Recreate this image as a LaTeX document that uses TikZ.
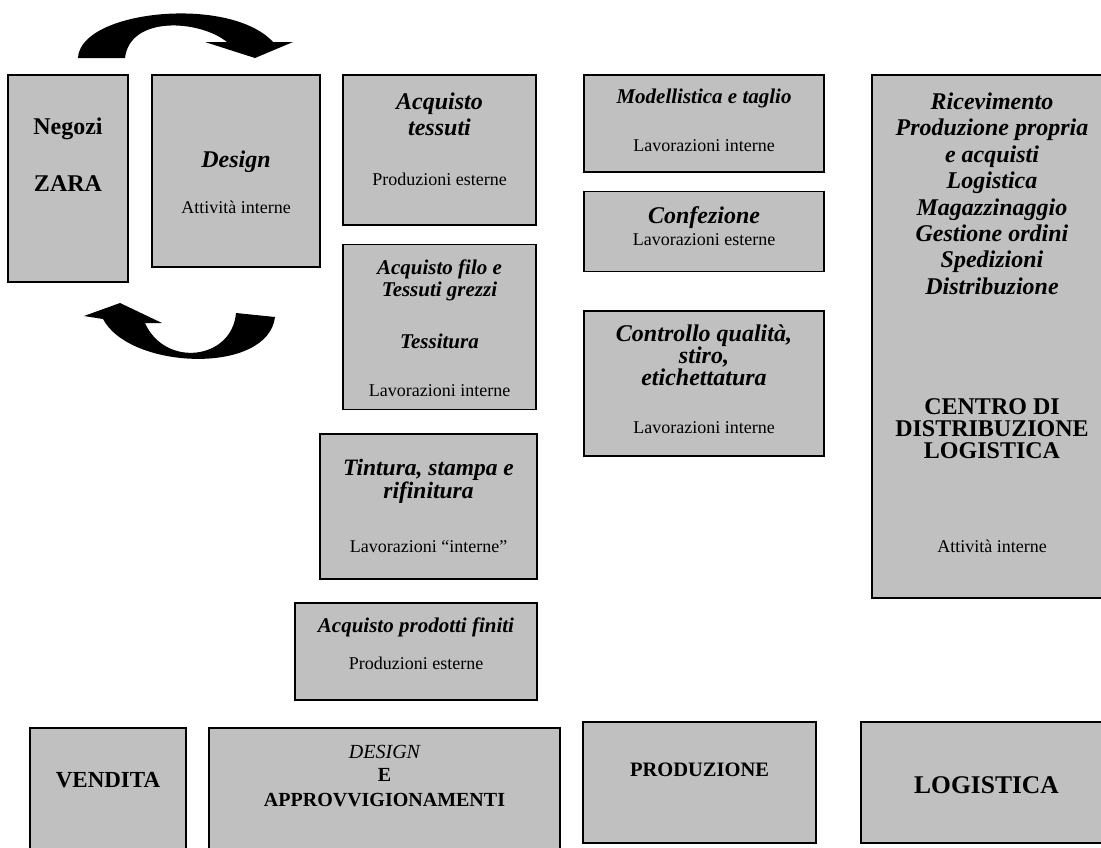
\documentclass[tikz,border=0pt]{standalone}
\usepackage{fontspec}
\setmainfont{Liberation Serif}
\usepackage{tikz}
\usetikzlibrary{positioning}
\definecolor{boxgray}{HTML}{C0C0C0}

\begin{document}
\begin{tikzpicture}[
    x=1pt, y=-1pt,
    box/.style={draw=black, line width=1.6pt, fill=boxgray, inner sep=0pt},
    head/.style={font=\bfseries\itshape\fontsize{24}{26}\selectfont,
                 align=center, inner sep=0pt, anchor=base},
    caps/.style={font=\bfseries\fontsize{24}{27}\selectfont,
                 align=center, inner sep=0pt, anchor=base},
    sub/.style={font=\fontsize{18}{21}\selectfont, inner sep=0pt,
                anchor=base},
    flow/.style={fill=black},
]
\useasboundingbox (0,0) rectangle (1101,847);
\clip (0,0) rectangle (1101,847);

% ── Vendita / Design ──
\node[box, minimum width=120pt, minimum height=207pt] (negozi) at (68,178.5) {};
\node[caps] (negozit) at ([yshift=-117pt]negozi.north) {Negozi\\[30pt]ZARA};

\node[box, minimum width=168pt, minimum height=192pt] (design) at (236,171) {};
\node[head] (designt) at ([yshift=-93pt]design.north) {Design};
\node[sub] (designs) at ([yshift=-139pt]design.north) {Attività interne};

% ── Approvvigionamenti ──
\node[box, minimum width=193pt, minimum height=150pt] (tessuti) at (439.5,150) {};
\node[head] (tessutit) at ([yshift=-61pt]tessuti.north) {Acquisto\\tessuti};
\node[sub] (tessutis) at ([yshift=-111pt]tessuti.north) {Produzioni esterne};

\node[box, minimum width=193pt, minimum height=165pt,
      below=18pt of tessuti] (filo) {};
\node[head, font=\bfseries\itshape\fontsize{21}{22}\selectfont]
    (filot) at ([yshift=-53pt]filo.north) {Acquisto filo e\\Tessuti grezzi};
\node[head, font=\bfseries\itshape\fontsize{21}{22}\selectfont]
    (filotes) at ([yshift=-105pt]filo.north) {Tessitura};
\node[sub] (filos) at ([yshift=-153pt]filo.north) {Lavorazioni interne};

\node[box, minimum width=217pt, minimum height=145pt] (tintura) at (428.5,506.5) {};
\node[head, font=\bfseries\itshape\fontsize{23.5}{20}\selectfont]
    (tinturat) at ([yshift=-65pt]tintura.north) {Tintura, stampa e\\rifinitura};
\node[sub] (tinturas) at ([yshift=-119pt]tintura.north)
    {Lavorazioni “interne”};

\node[box, minimum width=242pt, minimum height=97pt] (finiti) at (416,651.5) {};
\node[head, font=\bfseries\itshape\fontsize{21}{22}\selectfont]
    (finitit) at ([yshift=-30pt]finiti.north) {Acquisto prodotti finiti};
\node[sub] (finitis) at ([yshift=-67pt]finiti.north) {Produzioni esterne};

% ── Produzione ──
\node[box, minimum width=240pt, minimum height=97pt] (modell) at (704,123.5) {};
\node[head, font=\bfseries\itshape\fontsize{21}{22}\selectfont]
    (modellt) at ([yshift=-29pt]modell.north) {Modellistica e taglio};
\node[sub] (modells) at ([yshift=-77pt]modell.north) {Lavorazioni interne};

\node[box, minimum width=240pt, minimum height=80pt,
      below=18pt of modell] (confez) {};
\node[head] (confezt) at ([yshift=-33pt]confez.north) {Confezione};
\node[sub] (confezs) at ([yshift=-55pt]confez.north) {Lavorazioni esterne};

\node[box, minimum width=240pt, minimum height=145pt,
      below=38pt of confez] (controllo) {};
\node[head, font=\bfseries\itshape\fontsize{24}{21.5}\selectfont]
    (controllot) at ([yshift=-75pt]controllo.north)
    {Controllo qualità,\\stiro,\\etichettatura};
\node[sub] (controllos) at ([yshift=-123pt]controllo.north) {Lavorazioni interne};

% ── Logistica ──
\node[box, minimum width=240pt, minimum height=523pt] (centro) at (992,336.5) {};
\node[head, font=\bfseries\itshape\fontsize{24}{26.4}\selectfont]
    (centrot) at ([yshift=-220pt]centro.north)
    {Ricevimento\\Produzione propria\\e acquisti\\Logistica\\Magazzinaggio\\%
     Gestione ordini\\Spedizioni\\Distribuzione};
\node[caps, font=\bfseries\fontsize{24}{22}\selectfont]
    (centroc) at ([yshift=-384pt]centro.north)
    {CENTRO DI\\DISTRIBUZIONE\\LOGISTICA};
\node[sub] (centros) at ([yshift=-478pt]centro.north) {Attività interne};

% ── Funzioni ──
\node[box, minimum width=156pt, minimum height=132pt] (vendita) at (108,794) {};
\node[caps, font=\bfseries\fontsize{23}{26}\selectfont]
    (venditat) at ([yshift=-60pt]vendita.north) {VENDITA};

\node[box, minimum width=351pt, minimum height=132pt] (approv) at (384.5,794) {};
\node[caps, font=\itshape\fontsize{20}{24}\selectfont]
    (approvd) at ([yshift=-31pt]approv.north) {DESIGN};
\node[caps, font=\bfseries\fontsize{20}{25}\selectfont]
    (approvt) at ([yshift=-79pt]approv.north) {E\\APPROVVIGIONAMENTI};

\node[box, minimum width=233pt, minimum height=121pt] (produz) at (699.5,782.5) {};
\node[caps, font=\bfseries\fontsize{20.5}{24}\selectfont]
    (produzt) at ([yshift=-55pt]produz.north) {PRODUZIONE};

\node[box, minimum width=251pt, minimum height=121pt] (logist) at (986.5,782.5) {};
\node[caps, font=\bfseries\fontsize{25.5}{28}\selectfont]
    (logistt) at ([yshift=-72pt]logist.north) {LOGISTICA};

% ── Frecce curve ──
\fill[flow] (78,58) .. controls (80,10) and (230,-5) .. (273,42)
    -- (293,42) -- (255,58) -- (205,42) -- (227,42)
    .. controls (200,20) and (130,15) .. (125,58) -- cycle;
\fill[flow] (236,313) -- (275,317) .. controls (268,375) and (130,370) .. (103,319)
    -- (84,316) -- (120,303) -- (162,323) -- (145,323)
    .. controls (165,368) and (232,360) .. (236,313) -- cycle;

\end{tikzpicture}
\end{document}
